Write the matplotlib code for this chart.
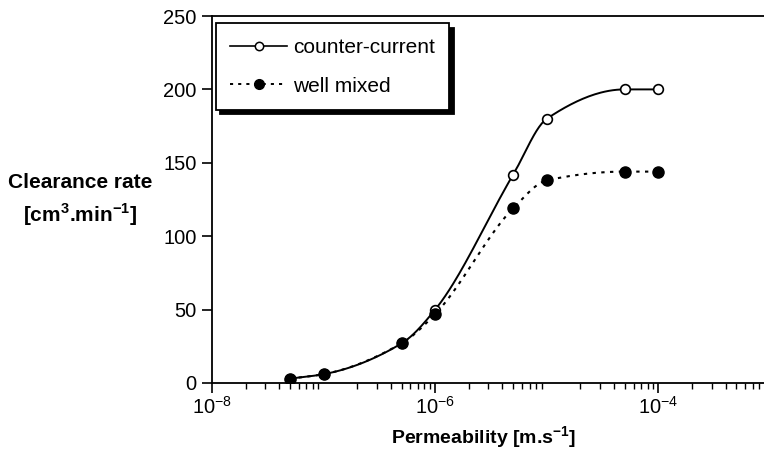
import numpy as np
import matplotlib.pyplot as plt
from matplotlib.ticker import LogLocator, NullFormatter, FixedLocator, FuncFormatter

plt.rcParams['font.family'] = ['Liberation Sans', 'DejaVu Sans']
plt.rcParams['mathtext.fontset'] = 'custom'
plt.rcParams['mathtext.rm'] = 'Liberation Sans'
plt.rcParams['mathtext.bf'] = 'Liberation Sans:bold'

# permeability [m/s] and clearance rate [cm3/min]
perm = [5e-8, 1e-7, 5e-7, 1e-6, 5e-6, 1e-5, 5e-5, 1e-4]
counter_current = [3, 6, 27, 50, 142, 180, 200, 200]
well_mixed = [3, 6, 27, 47, 119, 138, 144, 144]

y_ticks = [0, 50, 100, 150, 200, 250]
x_ticks = [1e-8, 1e-6, 1e-4]


def smooth_curve(x, y, n=40):
    # monotone cubic (Fritsch-Carlson) through the points, in log10(x)
    lx = np.log10(x)
    y = np.asarray(y, dtype=float)
    h = np.diff(lx)
    d = np.diff(y) / h
    m = np.zeros_like(y)
    m[0], m[-1] = d[0], d[-1]
    for i in range(1, len(y) - 1):
        if d[i - 1] * d[i] > 0:
            w1 = 2 * h[i] + h[i - 1]
            w2 = h[i] + 2 * h[i - 1]
            m[i] = (w1 + w2) / (w1 / d[i - 1] + w2 / d[i])
    xs, ys = [], []
    t = np.linspace(0, 1, n)
    for i in range(len(y) - 1):
        h00 = 2 * t ** 3 - 3 * t ** 2 + 1
        h10 = t ** 3 - 2 * t ** 2 + t
        h01 = -2 * t ** 3 + 3 * t ** 2
        h11 = t ** 3 - t ** 2
        xs.extend(lx[i] + t * h[i])
        ys.extend(h00 * y[i] + h10 * h[i] * m[i] + h01 * y[i + 1] + h11 * h[i] * m[i + 1])
    return 10 ** np.array(xs), np.array(ys)


fig = plt.figure(figsize=(7.64, 4.51), dpi=100)
W, H = 764, 451
ax = fig.add_axes([212 / W, 1 - 383 / H, (770 - 212) / W, (383 - 16) / H])

cx, cy = smooth_curve(perm, counter_current)
wx, wy = smooth_curve(perm, well_mixed)
ax.plot(cx, cy, color='black', lw=1.4)
ax.plot(wx, wy, color='black', lw=1.5, ls=(0, (1.6, 2.6)))
ax.plot(perm, counter_current, 'o', mfc='white', mec='black', ms=7, mew=1.2)
ax.plot(perm, well_mixed, 'o', color='black', ms=8)

# legend entries
ax.plot([], [], color='black', lw=1.2, marker='o', mfc='white', mec='black',
        ms=6, mew=1.1, label='counter-current')
ax.plot([], [], color='black', lw=1.4, ls=(0, (1.6, 2.6)), marker='o', ms=7,
        label='well mixed')
leg = ax.legend(loc='upper left', bbox_to_anchor=(0.007, 0.98), fancybox=False,
                shadow={'color': 'black', 'alpha': 1, 'ox': 3, 'oy': -3},
                edgecolor='black', fontsize=15, handlelength=2.7, handletextpad=0.3,
                borderpad=0.7, labelspacing=0.95, borderaxespad=0, framealpha=1)
leg.get_frame().set_linewidth(1.3)

ax.set_xscale('log')
ax.set_xlim(1e-8, 1e-3)
ax.set_ylim(0, 250)
ax.xaxis.set_major_locator(FixedLocator(x_ticks))
ax.xaxis.set_major_formatter(FuncFormatter(
    lambda v, pos: r'$\mathregular{10^{%d}}$' % round(np.log10(v))))
ax.xaxis.set_minor_locator(LogLocator(base=10, subs=np.arange(2, 10), numticks=20))
ax.xaxis.set_minor_formatter(NullFormatter())
ax.set_yticks(y_ticks)
ax.tick_params(axis='both', which='major', labelsize=14.5, length=7, width=1.2, direction='out')
ax.tick_params(axis='x', which='minor', length=4.5, width=1, direction='out')
ax.tick_params(axis='x', which='major', pad=2)
ax.tick_params(axis='y', which='major', pad=4)

ax.spines['right'].set_visible(False)
for s in ('left', 'bottom', 'top'):
    ax.spines[s].set_linewidth(1.3)

fig.text(484 / W, 1 - 438 / H, r'Permeability [m.s$^{\mathbf{-1}}$]', ha='center', va='center',
         fontsize=14, fontweight='bold')
fig.text(80 / W, 1 - 183 / H, 'Clearance rate', ha='center', va='center',
         fontsize=15, fontweight='bold')
fig.text(80 / W, 1 - 215 / H, r'[cm$^{\mathbf{3}}$.min$^{\mathbf{-1}}$]', ha='center', va='center',
         fontsize=15, fontweight='bold')

fig.savefig('out.png', dpi=100)
